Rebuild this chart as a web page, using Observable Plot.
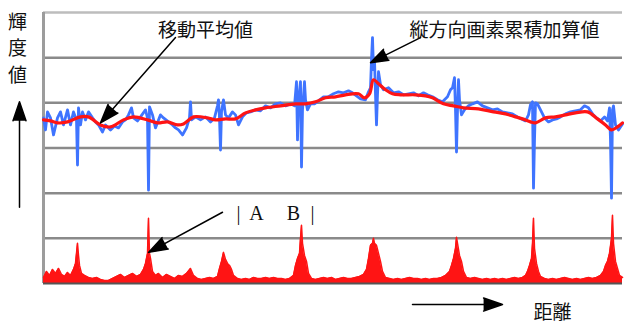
<!DOCTYPE html>
<html><head><meta charset="utf-8">
<script src="https://cdn.jsdelivr.net/npm/d3@7"></script>
<script src="https://cdn.jsdelivr.net/npm/@observablehq/plot@0.6"></script>
<style>html,body{margin:0;padding:0;background:#fff}#chart{width:624px;height:325px}</style>
</head><body><div id="chart"></div>
<script>
// 縦方向画素累積加算値 (raw column-sum brightness), distance / value
const rawDist = [
  0,2,4,7,10,14,17,20,24,27,
  30,33,34,35,37,39,42,45,49,52,
  55,59,62,67,71,75,79,82,85,88,
  90,94,97,102,104,105,106,109,112,115,
  117,120,125,129,132,135,139,143,146,147,
  148,152,157,162,167,171,174,175,176,177,
  178,180,182,185,189,192,195,199,203,207,
  212,217,222,227,232,237,242,247,251,253,
  254,255,257,258,259,261,262,264,267,271,
  275,280,285,290,295,300,305,309,313,317,
  322,325,327,328,329,330,331,332,333,334,
  335,337,340,345,350,355,360,365,370,375,
  380,384,389,394,399,404,407,409,411,412,
  413,414,415,416,418,421,425,429,434,439,
  444,449,454,459,464,469,474,478,482,485,
  487,489,490,491,492,494,497,501,505,509,
  513,517,522,527,532,537,541,545,549,553,
  557,561,564,566,567,568,569,570,572,575,
  579];
const rawValue = [
  165,153,171,165,148,165,171,158,173,158,
  171,163,118,175,158,171,163,171,165,161,
  158,151,158,153,157,155,161,163,168,175,
  165,162,166,173,165,93,176,168,155,163,
  168,165,161,158,155,153,148,155,165,181,
  163,166,163,166,161,165,177,183,165,133,
  171,183,168,165,171,168,158,166,170,171,
  173,172,177,175,179,180,177,179,177,201,
  143,183,201,116,173,201,183,173,179,179,
  182,186,186,189,191,190,192,190,187,184,
  183,191,195,223,245,213,223,188,158,188,
  211,198,193,195,190,191,188,189,190,187,
  190,188,186,183,181,186,193,195,205,173,
  131,173,203,183,168,173,177,179,181,177,
  175,173,174,171,170,169,166,164,162,168,
  178,181,95,143,180,179,173,165,161,163,
  164,166,169,171,172,173,177,175,169,165,
  162,166,162,175,143,85,173,177,158,153,
  159];

// 移動平均値 (moving average)
const avgDist = [
  0,7,14,24,37,45,57,67,80,90,
  104,114,124,134,140,150,164,172,182,192,
  202,212,222,237,252,262,272,282,292,302,
  315,321,326,330,335,342,349,357,372,382,
  389,400,410,420,435,450,462,472,479,487,
  492,502,512,522,532,544,554,562,568,574,
  579];
const avgValue = [
  163,162,160,161,166,166,158,156,163,166,
  163,160,161,158,159,166,165,163,164,164,
  170,173,175,177,179,179,181,185,186,188,
  189,185,189,203,199,193,189,188,188,187,
  185,179,177,175,174,171,169,166,164,161,
  160,165,166,168,170,171,164,158,153,156,
  160];

// |A − B| (difference)
const diffDist = [
  0,3,6,9,12,15,18,21,24,27,
  30,32,33,34,35,36,38,41,45,49,
  53,57,61,65,69,73,77,81,85,89,
  93,97,100,102,104,105,106,107,109,112,
  115,119,123,127,131,135,139,143,147,150,
  154,158,162,166,170,174,176,178,180,182,
  184,186,188,190,194,198,202,206,210,214,
  218,222,226,230,234,238,242,246,250,252,
  254,256,257,258,259,261,263,265,268,272,
  276,280,284,288,292,296,300,304,308,312,
  316,320,323,325,327,329,330,331,333,335,
  337,339,342,346,350,354,358,362,366,370,
  374,378,382,386,390,394,398,402,406,408,
  410,412,413,414,416,418,420,423,427,431,
  435,439,443,447,451,455,459,463,467,471,
  475,479,482,484,486,488,489,490,491,493,
  495,497,501,505,509,513,517,521,525,529,
  533,537,541,545,549,553,557,560,562,564,
  566,568,569,570,572,574,576,579];
const diffValue = [
  6,12,8,14,10,15,9,7,11,8,
  14,20,30,40,28,18,10,8,6,5,
  6,4,3,3,5,7,9,6,8,10,
  7,9,14,20,30,65,30,25,12,8,
  10,6,9,7,5,8,7,10,15,8,
  5,4,5,6,5,7,15,22,31,24,
  20,18,14,8,5,4,5,4,6,5,
  5,6,5,6,5,5,4,5,8,18,
  25,30,45,58,40,28,22,10,5,4,
  5,6,5,6,4,5,6,5,5,6,
  7,9,14,25,38,40,45,40,38,30,
  22,12,6,5,4,5,4,5,6,5,
  5,4,5,4,5,5,6,8,12,18,
  25,35,46,40,28,22,12,6,5,6,
  5,4,5,4,5,4,5,4,5,6,
  5,6,8,12,18,25,40,65,35,20,
  12,7,5,4,5,4,5,6,5,4,
  5,4,5,6,5,6,8,12,18,22,
  30,45,68,40,22,15,8,6];

const gridTicks = [0, 45, 90, 135, 180, 225, 270];

// annotation texts and their anchor points (data coordinates)
const cjkLabels = ["移動平均値", "縦方向画素累積加算値", "距離", "輝\n度\n値"];
const cjkX = [162, 366, 509, -26];
const cjkY = [254, 252, -27, 236];
const cjkAnchor = ["middle", "start", "middle", "middle"];
const abLabels = ["|", "A", "B", "|"];
const abX = [195, 213, 250, 269];
const abY = [70, 70, 70, 70];

// arrows: start -> tip (data coordinates)
const arrowX1 = [132, 377, 179, -24, 369];
const arrowY1 = [245, 245, 71, 76, -21];
const arrowX2 = [57, 327, 105, -24, 459];
const arrowY2 = [160, 220, 31, 181, -21];

const raw = rawDist.map((d, i) => ({d, v: rawValue[i]}));
const avg = avgDist.map((d, i) => ({d, v: avgValue[i]}));
const diff = diffDist.map((d, i) => ({d, v: diffValue[i]}));
const cjk = cjkLabels.map((t, i) => ({t, x: cjkX[i], y: cjkY[i], a: cjkAnchor[i]}));
const ab = abLabels.map((t, i) => ({t, x: abX[i], y: abY[i]}));
const arrows = arrowX1.map((x1, i) => ({x1, y1: arrowY1[i], x2: arrowX2[i], y2: arrowY2[i]}));

const cjkFont = "'Noto Sans CJK JP', 'Noto Sans CJK SC', sans-serif";

const chart = Plot.plot({
  width: 624, height: 325,
  marginLeft: 43, marginRight: 2, marginTop: 12, marginBottom: 42,
  x: {domain: [0, 579], axis: null},
  y: {domain: [0, 270], axis: null},
  style: {background: "#fff", overflow: "visible"},
  marks: [
    Plot.ruleY(gridTicks.slice(1, 6), {stroke: "#8a8a8a", strokeWidth: 2.5}),
    Plot.ruleY([gridTicks[6]], {stroke: "#bdbdbd", strokeWidth: 2.5}),
    Plot.ruleX([0], {stroke: "#9c9c9c", strokeWidth: 3}),
    Plot.lineY(raw, {x: "d", y: "v", stroke: "#3f74ff", strokeWidth: 2.8}),
    Plot.lineY(avg, {x: "d", y: "v", stroke: "#ff1414", strokeWidth: 3.2, curve: "catmull-rom"}),
    Plot.areaY(diff, {x: "d", y: "v", fill: "#ff1414"}),
    Plot.lineY(diff, {x: "d", y: "v", stroke: "#ff1414", strokeWidth: 1.5}),
    Plot.ruleY([gridTicks[0]], {stroke: "#555", strokeWidth: 2}),
    Plot.arrow(arrows, {x1: "x1", y1: "y1", x2: "x2", y2: "y2", stroke: "#000", fill: "#000", strokeWidth: 1.5, headLength: 20, headAngle: 38}),
    Plot.text(cjk.filter(d => d.a === "middle"), {x: "x", y: "y", text: "t", fontSize: 19, fontFamily: cjkFont, fill: "#111", textAnchor: "middle", lineHeight: 1.4}),
    Plot.text(cjk.filter(d => d.a === "start"), {x: "x", y: "y", text: "t", fontSize: 19, fontFamily: cjkFont, fill: "#111", textAnchor: "start"}),
    Plot.text(ab, {x: "x", y: "y", text: "t", fontSize: 20, fontFamily: "'Liberation Serif', serif", fill: "#111"})
  ]
});
document.getElementById("chart").append(chart);
</script>
</body></html>
